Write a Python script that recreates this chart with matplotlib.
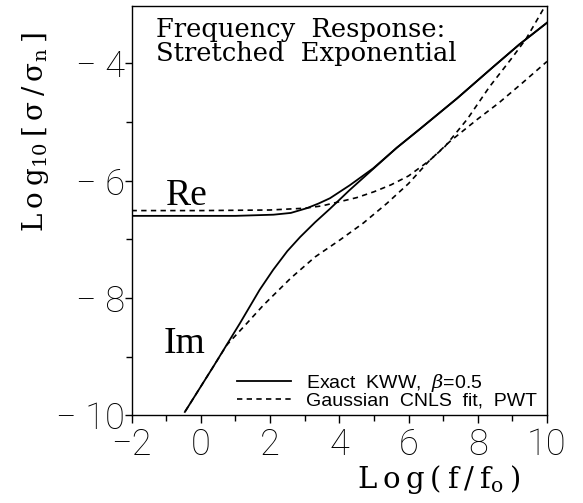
import matplotlib
matplotlib.use("Agg")
import matplotlib.pyplot as plt

plt.rcParams["mathtext.fontset"] = "dejavuserif"

# exact KWW (beta = 0.5), real and imaginary parts
reKwwX = [-2.0, 0.0, 1.0, 2.1, 2.6, 3.06, 3.4, 3.73, 4.3, 4.98, 5.66, 6.33, 7.4, 8.45, 9.2, 10.0]
reKwwY = [-6.60, -6.60, -6.60, -6.58, -6.55, -6.47, -6.39, -6.30, -6.08, -5.79, -5.44, -5.12, -4.60, -4.06, -3.68, -3.31]
imKwwX = [-0.46, 0.36, 1.13, 1.7, 2.09, 2.5, 2.87, 3.3, 3.73, 4.3, 4.98, 5.66, 6.33, 7.4, 8.45, 9.2, 10.0]
imKwwY = [-9.94, -9.17, -8.43, -7.86, -7.52, -7.20, -6.96, -6.71, -6.48, -6.16, -5.80, -5.44, -5.12, -4.60, -4.06, -3.68, -3.31]

# Gaussian CNLS fit (PWT)
reFitX = [-2.0, 0.0, 2.0, 3.0, 3.5, 4.0, 4.5, 5.0, 5.5, 6.0, 6.6, 7.05, 7.7, 8.34, 9.0, 9.4, 9.95]
reFitY = [-6.51, -6.51, -6.50, -6.47, -6.43, -6.36, -6.29, -6.19, -6.07, -5.92, -5.66, -5.42, -4.95, -4.40, -3.90, -3.58, -3.02]
imFitX = [-0.45, 0.36, 0.75, 1.3, 1.81, 2.6, 3.3, 4.02, 4.7, 5.37, 6.0, 6.6, 7.2, 8.0, 8.6, 9.3, 10.0]
imFitY = [-9.93, -9.17, -8.80, -8.45, -8.12, -7.66, -7.30, -7.01, -6.72, -6.39, -6.05, -5.66, -5.33, -4.95, -4.68, -4.33, -3.97]

xTicks = [-2, 0, 2, 4, 6, 8, 10]
xTickLabels = ["\u22122", "0", "2", "4", "6", "8", "10"]
yTicks = [-10, -8, -6, -4]
yTickLabels = ["\u2212 10", "\u2212 8", "\u2212 6", "\u2212 4"]

ts = "\u2009"  # thin space, to spread the label letters like the original

fig = plt.figure(figsize=(5.83, 5.03), dpi=100)
ax = fig.add_axes([0.2256, 0.1740, 0.7127, 0.8147])

ax.plot(reKwwX, reKwwY, color="black", lw=1.3, label="Exact  KWW,  $\\beta$=0.5")
ax.plot(imKwwX, imKwwY, color="black", lw=1.3)
ax.plot(reFitX, reFitY, color="black", lw=1.2, dashes=(3.2, 2.6), label="Gaussian  CNLS  fit,  PWT")
ax.plot(imFitX, imFitY, color="black", lw=1.2, dashes=(3.2, 2.6))

ax.set_xlim(-2, 10)
ax.set_ylim(-10, -3.02)
ax.set_xticks(xTicks)
ax.set_xticklabels(xTickLabels)
ax.set_yticks(yTicks)
ax.set_yticklabels(yTickLabels)
ax.set_xticks(range(-2, 11), minor=True)
ax.set_yticks(range(-10, -3), minor=True)
ax.tick_params(which="both", direction="out", width=1.0, color="black")
ax.tick_params(axis="x", which="major", length=6, pad=2)
ax.tick_params(axis="x", which="minor", length=4)
ax.tick_params(axis="y", which="major", length=5, pad=0)
ax.tick_params(axis="y", which="minor", length=4)
for lab in ax.get_xticklabels() + ax.get_yticklabels():
    lab.set_fontfamily("Roboto")
    lab.set_fontweight("light")
    lab.set_fontsize(26)
for sp in ax.spines.values():
    sp.set_linewidth(1.0)

ax.text(0.059, 0.972, "Frequency  Response:\nStretched  Exponential",
        transform=ax.transAxes, ha="left", va="top",
        family="DejaVu Serif", fontsize=18.5, linespacing=0.92)
ax.text(0.082, 0.514, "Re", transform=ax.transAxes, ha="left", va="baseline",
        family="Liberation Serif", fontsize=27)
ax.text(0.0775, 0.1525, "Im", transform=ax.transAxes, ha="left", va="baseline",
        family="Liberation Serif", fontsize=27)

ax.legend(loc="lower right", bbox_to_anchor=(0.985, 0.005), frameon=False,
          prop={"family": "Liberation Sans", "size": 14},
          handlelength=2.8, handletextpad=0.75, labelspacing=-0.1,
          borderaxespad=0, borderpad=0.2)

xLabel = ts.join(["L", "o", "g", "(", "f", "/", "f$_\\mathrm{o}$", ")"])
yLabel = ts.join(["L", "o", "g$_\\mathrm{10}$", "[", "\u03c3", "/", "\u03c3$_\\mathrm{n}$", "]"])
fig.text(0.612, 0.0292, xLabel, ha="left", va="baseline",
         family="DejaVu Serif", fontsize=21)
fig.text(0.0617, 0.7376, yLabel, rotation=90, ha="center", va="center",
         family="DejaVu Serif", fontsize=20)

fig.savefig("out.png", dpi=100)
